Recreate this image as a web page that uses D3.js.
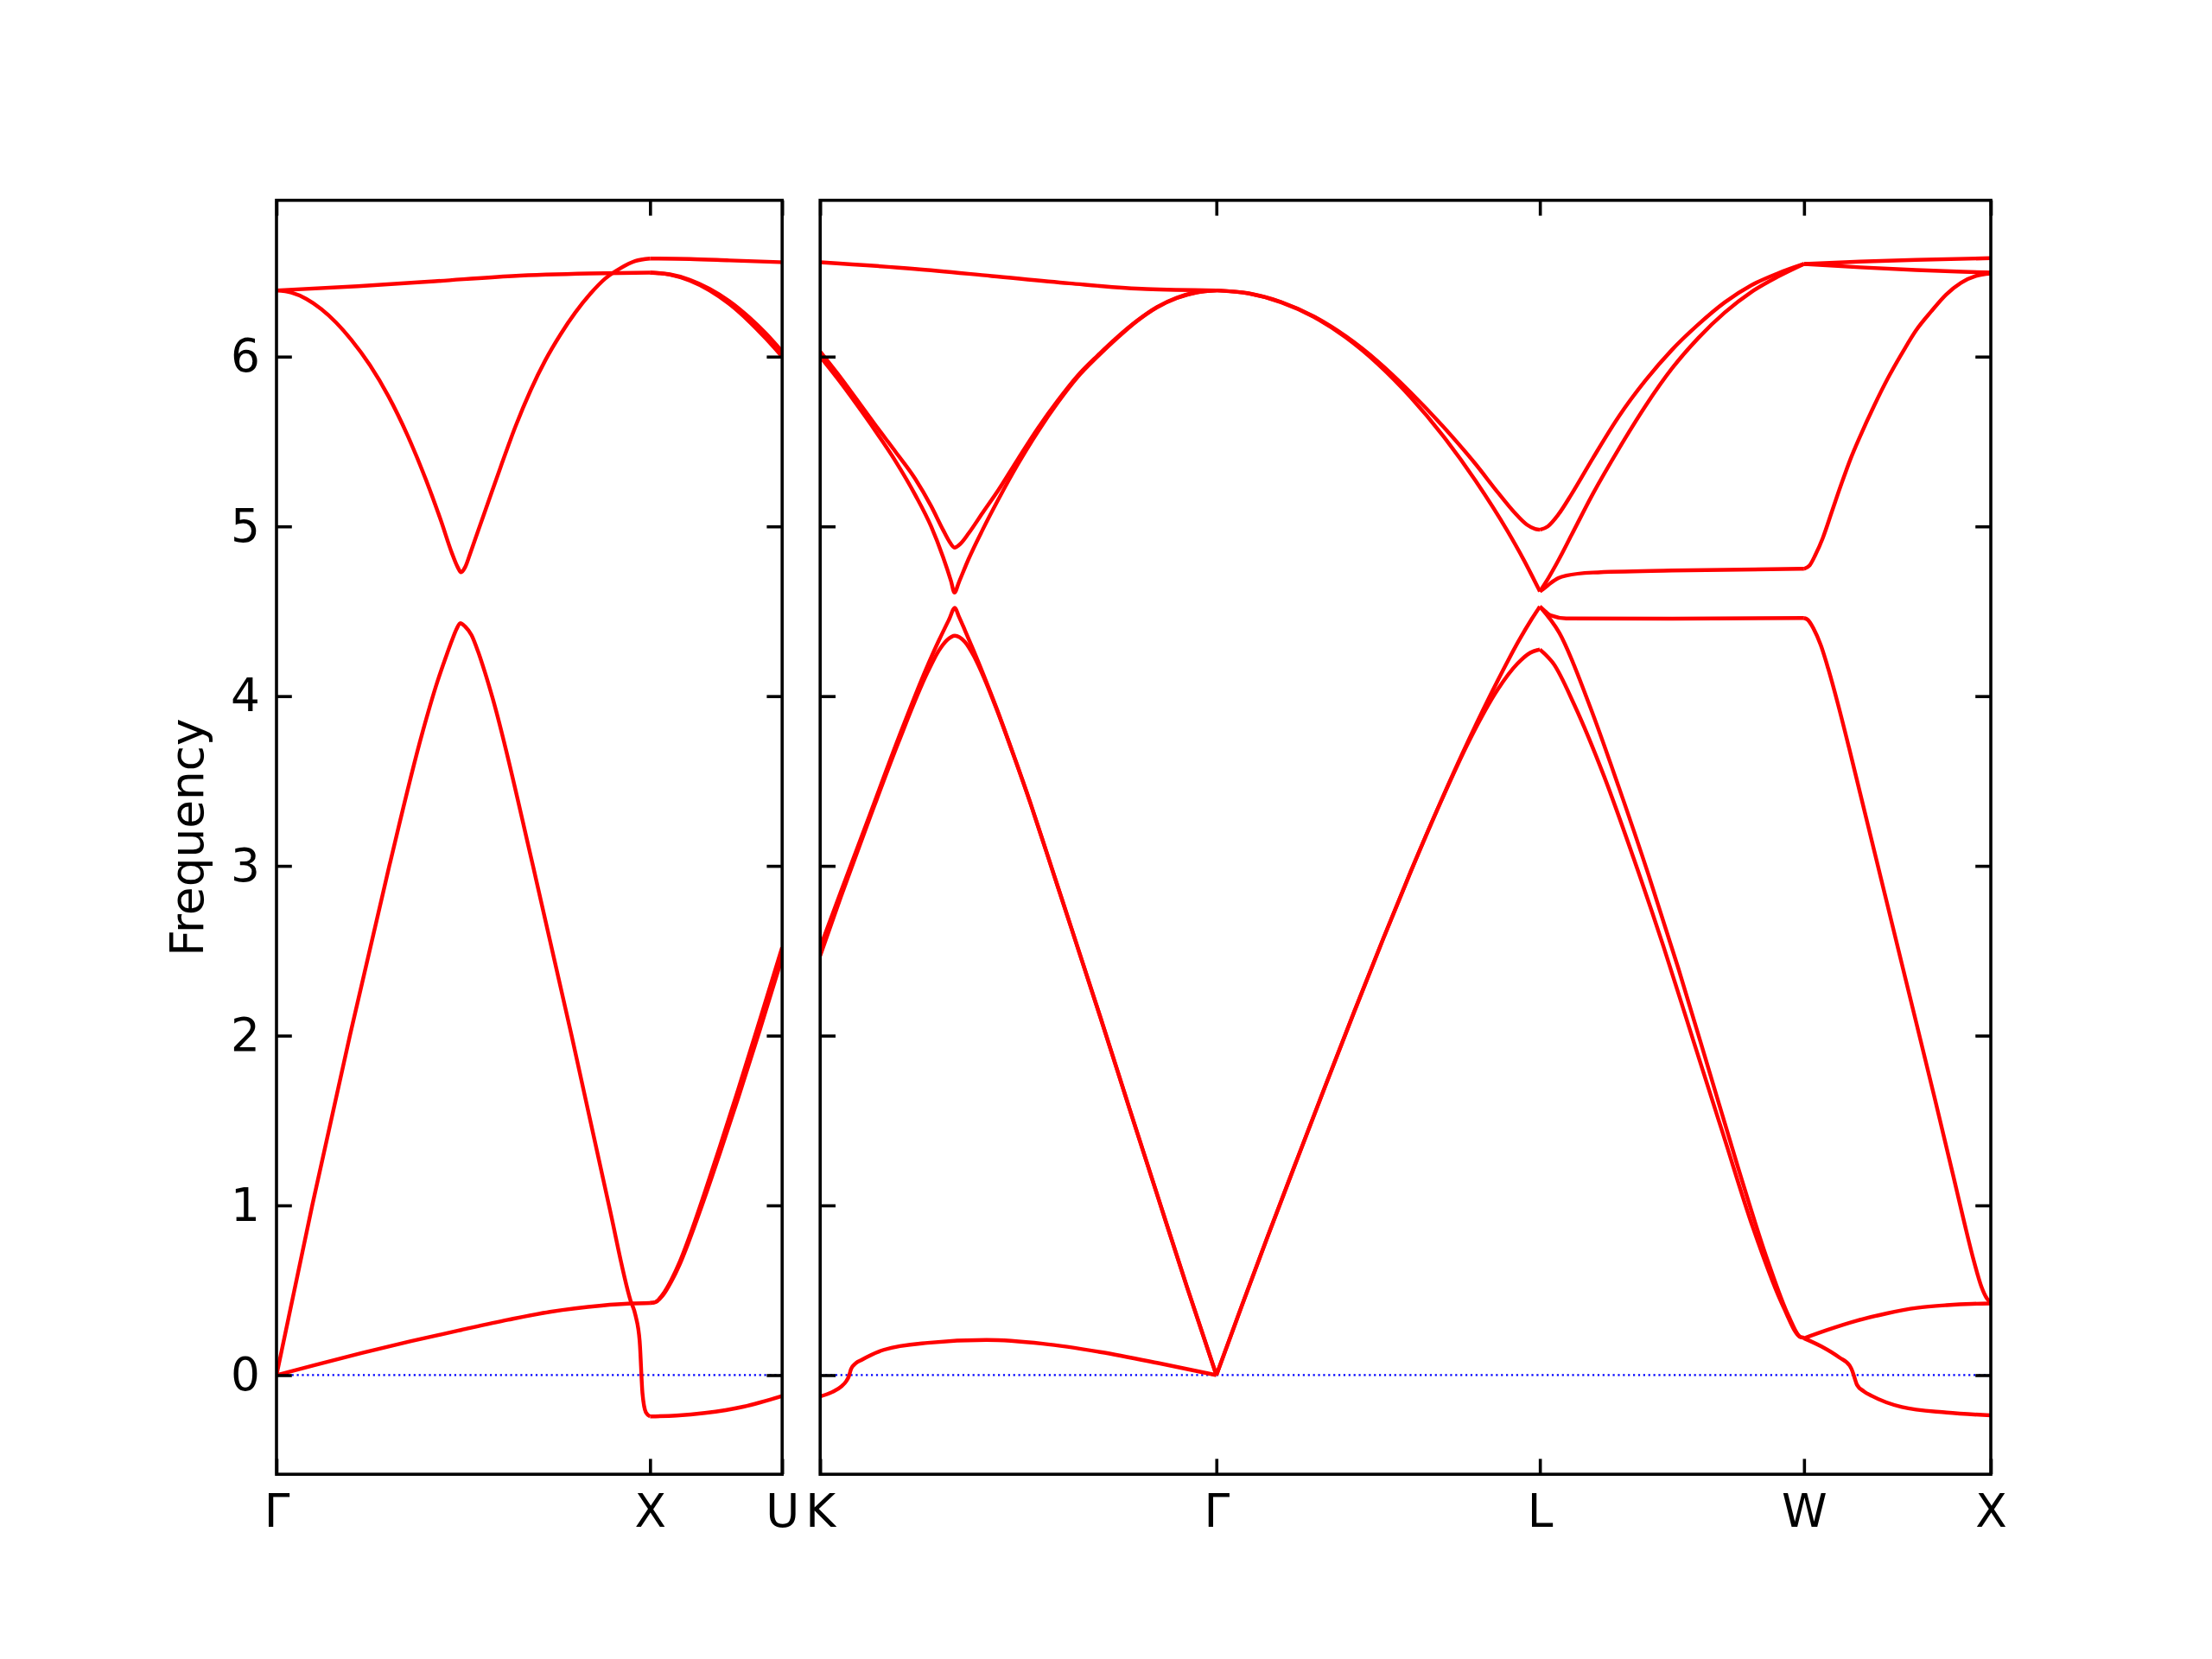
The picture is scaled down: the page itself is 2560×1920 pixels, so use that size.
<!DOCTYPE html>
<html>
<head>
<meta charset="utf-8">
<script src="https://cdn.jsdelivr.net/npm/d3@7"></script>
<style>
body { margin: 0; background: #fff; }
text { font-family: "DejaVu Sans", sans-serif; }
</style>
</head>
<body>
<div id="chart"></div>
<script>
// high-symmetry points and segment lengths along the path
var labelsLeft = ["Γ", "X", "U"];
var labelsRight = ["K", "Γ", "L", "W", "X"];
var segLeft = [1.0, 0.3536];
var segRight = [1.0607, 0.8660, 0.7071, 0.5];
var yTicks = [0, 1, 2, 3, 4, 5, 6];
var yRange = [-0.584, 6.921];

// bands per segment: each curve is [fraction along segment, frequency]
var bandsGX = [
    [[0, 0], [0.0957, 1.0], [0.1965, 2.0], [0.302, 3.0], [0.39, 3.78], [0.43, 4.08], [0.455, 4.24], [0.47, 4.33], [0.482, 4.395], [0.492, 4.43], [0.505, 4.41], [0.522, 4.36], [0.54, 4.26], [0.558, 4.14], [0.577, 4.0], [0.6866, 3.0], [0.79, 2.0], [0.89, 1.0], [0.9477, 0.44], [0.9613, 0.35], [0.9722, 0.2], [0.9797, -0.107], [0.989, -0.22], [1.0, -0.243]],
    [[0, 0], [0.1, 0.058], [0.228, 0.13], [0.36, 0.2], [0.494, 0.266], [0.62, 0.326], [0.732, 0.373], [0.87, 0.41], [0.95, 0.422], [1.0, 0.425]],
    [[0, 6.39], [0.04, 6.377], [0.08, 6.34], [0.12, 6.28], [0.16, 6.2], [0.2, 6.1], [0.25, 5.95], [0.3, 5.765], [0.35, 5.54], [0.4, 5.275], [0.44, 5.035], [0.47, 4.84], [0.485, 4.76], [0.494, 4.73], [0.505, 4.76], [0.52, 4.85], [0.54, 4.975], [0.56, 5.1], [0.6, 5.35], [0.64, 5.59], [0.68, 5.8], [0.72, 5.98], [0.76, 6.13], [0.8, 6.26], [0.84, 6.37], [0.88, 6.46], [0.92, 6.52], [0.96, 6.563], [1.0, 6.578]],
    [[0, 6.39], [0.218, 6.415], [0.424, 6.444], [0.631, 6.475], [0.837, 6.49], [1.0, 6.495]]
];

var bandsXU = [
    [[0, -0.243], [0.2, -0.238], [0.415, -0.223], [0.707, -0.186], [1.0, -0.123]],
    [[0, 0.425], [0.04, 0.43], [0.097, 0.477], [0.16, 0.56], [0.226, 0.67], [0.3, 0.82], [0.407, 1.06], [0.53, 1.35], [0.666, 1.68], [0.83, 2.09], [1.0, 2.52]],
    [[0, 0.425], [0.04, 0.43], [0.097, 0.47], [0.16, 0.55], [0.226, 0.655], [0.3, 0.8], [0.407, 1.03], [0.53, 1.31], [0.666, 1.63], [0.83, 2.03], [1.0, 2.46]],
    [[0, 6.495], [0.15, 6.485], [0.3, 6.453], [0.45, 6.4], [0.6, 6.327], [0.75, 6.232], [0.875, 6.138], [1.0, 6.03]],
    [[0, 6.495], [0.15, 6.483], [0.3, 6.448], [0.45, 6.39], [0.6, 6.31], [0.75, 6.207], [0.875, 6.108], [1.0, 6.0]],
    [[0, 6.578], [0.3, 6.575], [0.6, 6.567], [1.0, 6.556]]
];

var bandsKG = [
    [[0, -0.125], [0.03, -0.1], [0.054, -0.066], [0.066, -0.035], [0.072, -0.01], [0.078, 0.036], [0.09, 0.07], [0.105, 0.09], [0.162, 0.15], [0.271, 0.19], [0.42, 0.207], [0.562, 0.185], [0.707, 0.136], [0.853, 0.071], [1.0, 0]],
    [[0, 2.52], [0.0526, 2.85], [0.125, 3.3], [0.198, 3.755], [0.271, 4.18], [0.3, 4.33], [0.325, 4.45], [0.34, 4.52], [0.35, 4.47], [0.365, 4.39], [0.387, 4.27], [0.415, 4.11], [0.445, 3.93], [0.49, 3.64], [0.532, 3.36], [0.57, 3.09], [0.605, 2.84], [0.707, 2.11], [0.78, 1.575], [0.853, 1.045], [0.925, 0.525], [1.0, 0]],
    [[0, 2.47], [0.0526, 2.82], [0.125, 3.28], [0.198, 3.73], [0.271, 4.14], [0.3, 4.27], [0.32, 4.33], [0.34, 4.356], [0.365, 4.32], [0.387, 4.24], [0.415, 4.1], [0.445, 3.925], [0.49, 3.64], [0.532, 3.36], [0.57, 3.09], [0.605, 2.84], [0.707, 2.11], [0.78, 1.575], [0.853, 1.045], [0.925, 0.525], [1.0, 0]],
    [[0, 6.0], [0.044, 5.87], [0.09, 5.725], [0.14, 5.56], [0.19, 5.385], [0.24, 5.185], [0.28, 5.0], [0.31, 4.82], [0.33, 4.68], [0.339, 4.61], [0.35, 4.67], [0.375, 4.81], [0.41, 4.98], [0.45, 5.16], [0.5, 5.37], [0.55, 5.56], [0.6, 5.73], [0.65, 5.88], [0.7, 6.0], [0.75, 6.11], [0.8, 6.21], [0.85, 6.29], [0.9, 6.345], [0.95, 6.378], [1.0, 6.39]],
    [[0, 6.03], [0.044, 5.9], [0.09, 5.755], [0.14, 5.595], [0.19, 5.44], [0.24, 5.28], [0.28, 5.12], [0.31, 4.98], [0.325, 4.915], [0.339, 4.875], [0.355, 4.9], [0.375, 4.96], [0.41, 5.08], [0.45, 5.215], [0.5, 5.4], [0.55, 5.58], [0.6, 5.742], [0.65, 5.888], [0.7, 6.006], [0.75, 6.115], [0.8, 6.212], [0.85, 6.292], [0.9, 6.347], [0.95, 6.379], [1.0, 6.39]],
    [[0, 6.556], [0.239, 6.517], [0.433, 6.475], [0.628, 6.432], [0.823, 6.398], [1.0, 6.39]]
];

var bandsGL = [
    [[0, 0], [0.08, 0.416], [0.158, 0.814], [0.25, 1.274], [0.336, 1.7], [0.425, 2.136], [0.514, 2.563], [0.6, 2.963], [0.692, 3.372], [0.781, 3.746], [0.87, 4.093], [0.935, 4.327], [0.975, 4.455], [1.0, 4.528]],
    [[0, 0], [0.08, 0.416], [0.158, 0.814], [0.25, 1.274], [0.336, 1.7], [0.425, 2.136], [0.514, 2.563], [0.6, 2.963], [0.692, 3.37], [0.781, 3.735], [0.87, 4.04], [0.93, 4.19], [0.97, 4.255], [1.0, 4.275]],
    [[0, 6.39], [0.1, 6.372], [0.2, 6.32], [0.3, 6.235], [0.4, 6.113], [0.5, 5.955], [0.6, 5.762], [0.7, 5.535], [0.8, 5.272], [0.9, 4.972], [0.95, 4.803], [1.0, 4.617]],
    [[0, 6.39], [0.1, 6.373], [0.2, 6.322], [0.3, 6.238], [0.4, 6.12], [0.5, 5.97], [0.6, 5.79], [0.7, 5.59], [0.8, 5.37], [0.87, 5.2], [0.92, 5.085], [0.96, 5.01], [0.985, 4.985], [1.0, 4.98]]
];

var bandsLW = [
    [[0, 4.98], [0.03, 5.0], [0.07, 5.07], [0.12, 5.19], [0.2, 5.4], [0.3, 5.65], [0.4, 5.86], [0.5, 6.04], [0.6, 6.19], [0.7, 6.32], [0.8, 6.42], [0.9, 6.49], [1.0, 6.546]],
    [[0, 4.617], [0.03, 4.69], [0.07, 4.8], [0.12, 4.95], [0.2, 5.19], [0.3, 5.46], [0.4, 5.71], [0.5, 5.93], [0.6, 6.11], [0.7, 6.26], [0.8, 6.38], [0.9, 6.47], [1.0, 6.546]],
    [[0, 4.617], [0.02, 4.64], [0.04, 4.665], [0.07, 4.695], [0.1, 4.71], [0.2, 4.728], [0.5, 4.74], [1.0, 4.75]],
    [[0, 4.528], [0.02, 4.5], [0.04, 4.476], [0.1, 4.458], [0.5, 4.456], [1.0, 4.46]],
    [[0, 4.528], [0.074, 4.372], [0.187, 3.95], [0.299, 3.463], [0.412, 2.944], [0.525, 2.392], [0.638, 1.808], [0.75, 1.224], [0.863, 0.672], [0.942, 0.347], [0.987, 0.224], [1.0, 0.22]],
    [[0, 4.275], [0.052, 4.19], [0.13, 3.95], [0.243, 3.528], [0.356, 3.04], [0.469, 2.52], [0.581, 1.97], [0.694, 1.418], [0.807, 0.867], [0.919, 0.412], [0.987, 0.224], [1.0, 0.22]]
];

var bandsWX = [
    [[0, 0.217], [0.125, 0.266], [0.284, 0.321], [0.444, 0.364], [0.604, 0.396], [0.763, 0.412], [0.9, 0.42], [1.0, 0.422]],
    [[0, 0.217], [0.093, 0.169], [0.189, 0.104], [0.245, 0.055], [0.26, 0.02], [0.269, -0.01], [0.284, -0.058], [0.32, -0.095], [0.364, -0.123], [0.524, -0.188], [0.763, -0.22], [1.0, -0.237]],
    [[0, 4.46], [0.02, 4.45], [0.05, 4.4], [0.09, 4.3], [0.13, 4.16], [0.18, 3.96], [0.24, 3.7], [0.3, 3.43], [0.4, 2.98], [0.5, 2.53], [0.6, 2.08], [0.7, 1.63], [0.8, 1.17], [0.86, 0.89], [0.91, 0.67], [0.95, 0.52], [0.98, 0.45], [1.0, 0.428]],
    [[0, 4.75], [0.03, 4.77], [0.06, 4.83], [0.1, 4.93], [0.15, 5.09], [0.2, 5.25], [0.25, 5.4], [0.3, 5.53], [0.375, 5.71], [0.45, 5.875], [0.53, 6.03], [0.6, 6.155], [0.68, 6.265], [0.76, 6.365], [0.84, 6.435], [0.92, 6.475], [1.0, 6.49]],
    [[0, 6.546], [0.3, 6.56], [0.6, 6.57], [1.0, 6.58]],
    [[0, 6.546], [0.3, 6.526], [0.6, 6.51], [0.85, 6.5], [1.0, 6.495]]
];

// figure layout
var W = 2560, H = 1920;
var axTop = 231.8, axBottom = 1706.2;
var tickLen = 17.8;

var svg = d3.select("#chart")
    .append("svg")
    .attr("width", W)
    .attr("height", H)
    .style("background", "#fff");

var y = d3.scaleLinear()
    .domain(yRange)
    .range([axBottom, axTop]);

var panels = [
    { segs: segLeft, labels: labelsLeft, bands: [bandsGX, bandsXU], x0: 320, x1: 905.2, yLabels: true },
    { segs: segRight, labels: labelsRight, bands: [bandsKG, bandsGL, bandsLW, bandsWX], x0: 949.2, x1: 2304, yLabels: false }
];

panels.forEach(function(p, pi) {
    var total = d3.sum(p.segs);
    var x = d3.scaleLinear().domain([0, total]).range([p.x0, p.x1]);
    var starts = [0];
    p.segs.forEach(function(s) { starts.push(starts[starts.length - 1] + s); });

    var g = svg.append("g");

    g.append("clipPath")
        .attr("id", "clip" + pi)
        .append("rect")
        .attr("x", p.x0).attr("y", axTop)
        .attr("width", p.x1 - p.x0).attr("height", axBottom - axTop);

    var plot = g.append("g").attr("clip-path", "url(#clip" + pi + ")");

    // zero line
    plot.append("line")
        .attr("x1", p.x0).attr("x2", p.x1)
        .attr("y1", y(0)).attr("y2", y(0))
        .attr("stroke", "#0000ff")
        .attr("stroke-width", 2.22)
        .attr("stroke-dasharray", "2.22,3.66");

    // bands
    p.bands.forEach(function(segBands, si) {
        var line = d3.line()
            .x(function(d) { return x(starts[si] + d[0] * p.segs[si]); })
            .y(function(d) { return y(d[1]); })
            .curve(d3.curveMonotoneX);
        plot.selectAll(null)
            .data(segBands)
            .enter()
            .append("path")
            .attr("d", line)
            .attr("fill", "none")
            .attr("stroke", "#ff0000")
            .attr("stroke-width", 4.44)
            .attr("stroke-linejoin", "round");
    });

    // axes, ticks pointing inward
    var xb = g.append("g")
        .attr("transform", "translate(0," + axBottom + ")")
        .call(d3.axisBottom(x).tickValues(starts).tickSize(-tickLen).tickSizeOuter(0).tickPadding(23)
            .tickFormat(function(d, i) { return p.labels[i]; }));
    var xt = g.append("g")
        .attr("transform", "translate(0," + axTop + ")")
        .call(d3.axisTop(x).tickValues(starts).tickSize(-tickLen).tickSizeOuter(0).tickFormat(""));
    var yl = g.append("g")
        .attr("transform", "translate(" + p.x0 + ",0)")
        .call(d3.axisLeft(y).tickValues(yTicks).tickSize(-tickLen).tickSizeOuter(0).tickPadding(19)
            .tickFormat(p.yLabels ? d3.format("d") : ""));
    var yr = g.append("g")
        .attr("transform", "translate(" + p.x1 + ",0)")
        .call(d3.axisRight(y).tickValues(yTicks).tickSize(-tickLen).tickSizeOuter(0).tickFormat(""));

    [xb, xt, yl, yr].forEach(function(a) {
        a.select(".domain").remove();
        a.selectAll(".tick line").attr("stroke", "#000").attr("stroke-width", 3.6);
        a.selectAll(".tick text")
            .attr("fill", "#000")
            .style("font-family", "'DejaVu Sans', sans-serif")
            .style("font-size", "53.3px");
    });

    // frame
    g.append("rect")
        .attr("x", p.x0).attr("y", axTop)
        .attr("width", p.x1 - p.x0).attr("height", axBottom - axTop)
        .attr("fill", "none")
        .attr("stroke", "#000")
        .attr("stroke-width", 3.6);
});

// y axis label
svg.append("text")
    .attr("transform", "translate(235," + ((axTop + axBottom) / 2) + ")rotate(-90)")
    .style("text-anchor", "middle")
    .style("font-family", "'DejaVu Sans', sans-serif")
    .style("font-size", "53.3px")
    .text("Frequency");
</script>
</body>
</html>
